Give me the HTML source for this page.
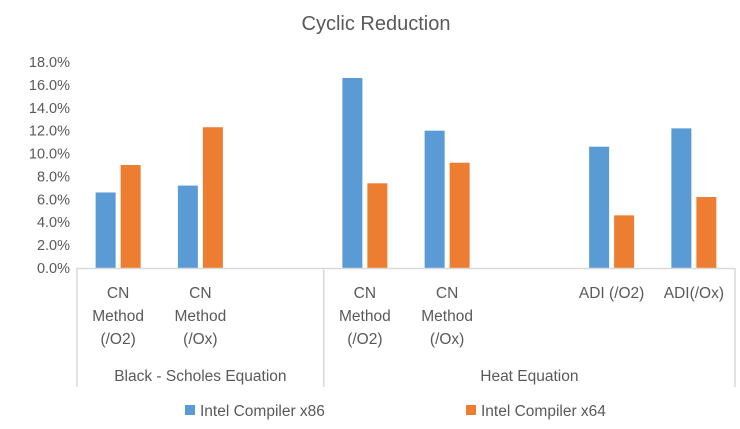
<!DOCTYPE html>
<html><head><meta charset="utf-8"><style>
body{margin:0;background:#fff;}
svg text{font-family:"Liberation Sans",sans-serif;fill:#595959;}
</style></head><body>
<svg width="740" height="424" xmlns="http://www.w3.org/2000/svg">
<rect width="740" height="424" fill="#fff"/>
<text x="376" y="30" font-size="20" text-anchor="middle">Cyclic Reduction</text>
<g id="yaxis"></g>
<g id="bars"></g>
<g id="xaxis"></g>
<g>
<rect x="185" y="405" width="10" height="10" fill="#5b9bd5"/>
<text x="200" y="416" font-size="15.5">Intel Compiler x86</text>
<rect x="466" y="405" width="10" height="10" fill="#ed7d31"/>
<text x="481" y="416" font-size="15.5">Intel Compiler x64</text>
</g>
</svg>
<script>
const categories=[["CN","Method","(/O2)"],["CN","Method","(/Ox)"],null,["CN","Method","(/O2)"],["CN","Method","(/Ox)"],null,["ADI (/O2)"],["ADI(/Ox)"]];
const seriesX86=[6.6,7.2,null,16.6,12.0,null,10.6,12.2];
const seriesX64=[9.0,12.3,null,7.4,9.2,null,4.6,6.2];
const yTicks=[0,2,4,6,8,10,12,14,16,18];
const groups=[{name:"Black - Scholes Equation",start:0,end:3},{name:"Heat Equation",start:3,end:8}];
const NS="http://www.w3.org/2000/svg";
const x0=77,x1=735,y0=268,yTop=62,yMax=18;
const slot=(x1-x0)/categories.length;
function yS(v){return y0-(v/yMax)*(y0-yTop);}
function xS(i){return x0+i*slot;}
function mk(tag,attrs,parent){const e=document.createElementNS(NS,tag);for(const k in attrs)e.setAttribute(k,attrs[k]);parent.appendChild(e);return e;}
const ya=document.getElementById('yaxis'),bg=document.getElementById('bars'),xa=document.getElementById('xaxis');
yTicks.forEach(t=>{const e=mk('text',{x:70,y:yS(t)+5,'font-size':14.5,'text-anchor':'end'},ya);e.textContent=t.toFixed(1)+'%';

});
const bw=20;
categories.forEach((c,i)=>{const cx=xS(i)+slot/2;
if(seriesX86[i]!=null){const r=mk('rect',{x:cx-bw-2.5,y:yS(seriesX86[i]),width:bw,height:y0-yS(seriesX86[i]),fill:'#5b9bd5'},bg);

}
if(seriesX64[i]!=null){const r=mk('rect',{x:cx+2.5,y:yS(seriesX64[i]),width:bw,height:y0-yS(seriesX64[i]),fill:'#ed7d31'},bg);

}
if(c){const t=mk('text',{'font-size':15.5,'text-anchor':'middle'},xa);


c.forEach((l,j)=>{const s=mk('tspan',{x:cx,y:298+j*23},t);s.textContent=l;});}
});
mk('line',{x1:x0-1,x2:x1,y1:y0+0.5,y2:y0+0.5,stroke:'#d9d9d9','stroke-width':1.5},xa);
groups.forEach((g,k)=>{const a=xS(g.start),b=xS(g.end);
mk('line',{x1:a,x2:a,y1:y0,y2:387,stroke:'#d9d9d9','stroke-width':1.5},xa);
if(k==groups.length-1)mk('line',{x1:b,x2:b,y1:y0,y2:387,stroke:'#d9d9d9','stroke-width':1.5},xa);
const t=mk('text',{x:(a+b)/2,y:381,'font-size':15.5,'text-anchor':'middle'},xa);t.textContent=g.name;

});
</script>
</body></html>
